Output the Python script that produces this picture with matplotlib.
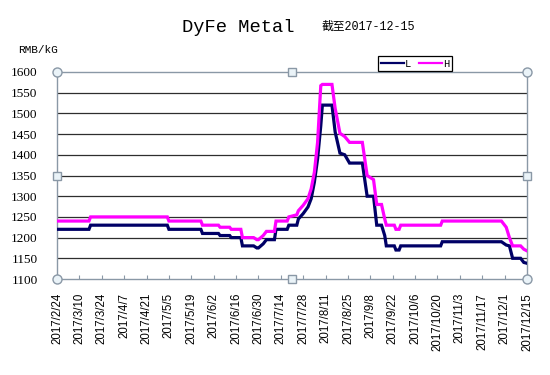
#!/usr/bin/env python3
"""DyFe Metal price chart (L / H), to 2017-12-15."""
import numpy as np
import pandas as pd
import matplotlib
matplotlib.use("Agg")
import matplotlib.pyplot as plt

# ===== DATA =====
dates = ["2017-02-24", "2017-03-16", "2017-03-17", "2017-05-04", "2017-05-05",
         "2017-05-25", "2017-05-26", "2017-06-05", "2017-06-06", "2017-06-12",
         "2017-06-13", "2017-06-19", "2017-06-20", "2017-06-27", "2017-06-29",
         "2017-06-30", "2017-07-03", "2017-07-05", "2017-07-10", "2017-07-11",
         "2017-07-18", "2017-07-19", "2017-07-24", "2017-07-25", "2017-07-28",
         "2017-07-31", "2017-08-02", "2017-08-04", "2017-08-06", "2017-08-08",
         "2017-08-09", "2017-08-15", "2017-08-17", "2017-08-20", "2017-08-23",
         "2017-08-26", "2017-09-03", "2017-09-06", "2017-09-10", "2017-09-12",
         "2017-09-15", "2017-09-17", "2017-09-18", "2017-09-23", "2017-09-24",
         "2017-09-26", "2017-09-27", "2017-10-22", "2017-10-23", "2017-11-29",
         "2017-12-02", "2017-12-04", "2017-12-06", "2017-12-11", "2017-12-13",
         "2017-12-15"]
low = [1220, 1220, 1230, 1230, 1220,
       1220, 1210, 1210, 1205, 1205,
       1200, 1200, 1180, 1180, 1175,
       1175, 1185, 1195, 1195, 1220,
       1220, 1230, 1230, 1245, 1258,
       1274, 1294, 1334, 1390, 1470,
       1520, 1520, 1455, 1404, 1400,
       1380, 1380, 1300, 1300, 1230,
       1230, 1205, 1180, 1180, 1170,
       1170, 1180, 1180, 1190, 1190,
       1182, 1180, 1150, 1150, 1140,
       1138]
high = [1240, 1240, 1250, 1250, 1240,
        1240, 1230, 1230, 1225, 1225,
        1220, 1220, 1200, 1200, 1195,
        1195, 1205, 1215, 1215, 1240,
        1240, 1250, 1255, 1265, 1278,
        1294, 1318, 1358, 1430, 1567,
        1570, 1570, 1512, 1452, 1444,
        1430, 1430, 1350, 1340, 1280,
        1280, 1245, 1230, 1230, 1220,
        1220, 1230, 1230, 1240, 1240,
        1225, 1200, 1180, 1180, 1172,
        1168]

x_start, x_end = "2017-02-24", "2017-12-15"
y_ticks = list(range(1100, 1601, 50))

C_L = "#000066"
C_H = "#ff00ff"
C_FRAME = "#8a98a6"

t = pd.to_datetime(dates)
tick_dates = pd.date_range(x_start, x_end, freq="14D")
tick_labels = [f"{d.year}/{d.month}/{d.day}" for d in tick_dates]

fig = plt.figure(figsize=(5.5, 3.75), dpi=100)
ax = fig.add_axes([57 / 550, 1 - 279 / 375, 470 / 550, 207 / 375])

for yv in y_ticks[1:-1]:
    ax.axhline(yv, color="#2e2e2e", lw=0.9, zorder=1)

ax.plot(t, low, color=C_L, lw=2.3, label="L", zorder=3, solid_joinstyle="miter")
ax.plot(t, high, color=C_H, lw=2.3, label="H", zorder=3, solid_joinstyle="miter")

ax.set_xlim(pd.Timestamp(x_start), pd.Timestamp(x_end))
ax.set_ylim(1100, 1600)
ax.set_yticks(y_ticks)
ax.set_yticklabels([str(v) for v in y_ticks], family="Liberation Serif", fontsize=9.5)
ax.set_xticks(tick_dates)
ax.set_xticklabels(tick_labels, rotation=90, family="Liberation Sans", fontsize=8.3)
ax.tick_params(axis="x", direction="in", length=3, color=C_FRAME, pad=10)
ax.tick_params(axis="y", length=0, pad=14)

for s in ax.spines.values():
    s.set_color(C_FRAME)
    s.set_linewidth(1.0)

# selection handles of the plot area (corners round, edge midpoints square)
corners = [(0, 0), (0, 1), (1, 0), (1, 1)]
mids = [(0.5, 0), (0.5, 1), (0, 0.5), (1, 0.5)]
for (cx, cy) in corners:
    ax.plot(cx, cy, "o", ms=6.5, mfc="#eaf3f8", mec=C_FRAME, mew=1.0,
            transform=ax.transAxes, clip_on=False, zorder=6)
for (cx, cy) in mids:
    ax.plot(cx, cy, "s", ms=5.5, mfc="#eaf3f8", mec=C_FRAME, mew=1.0,
            transform=ax.transAxes, clip_on=False, zorder=6)

fig.text(238 / 550, 1 - 27 / 375, "DyFe Metal", ha="center", va="center",
         family=["Liberation Mono", "Noto Sans CJK SC"], fontsize=13.5)
fig.text(322 / 550, 1 - 27 / 375, "截至2017-12-15", ha="left", va="center",
         family=["Liberation Mono", "Noto Sans CJK SC"], fontsize=8.5)
fig.text(18 / 550, 1 - 50 / 375, "RMB/kG", ha="left", va="center",
         family="Liberation Mono", fontsize=8)

leg = fig.legend(loc="upper left", bbox_to_anchor=(378 / 550, 1 - 56 / 375), ncol=2,
                 prop={"family": "Liberation Mono", "size": 7.5},
                 frameon=True, fancybox=False, edgecolor="black", framealpha=1,
                 handlelength=2.2, handletextpad=0.1, columnspacing=0.8,
                 borderpad=0.25, borderaxespad=0)
leg.get_frame().set_linewidth(0.9)
for ln in leg.get_lines():
    ln.set_linewidth(1.6)

fig.savefig("out.png", dpi=100)
